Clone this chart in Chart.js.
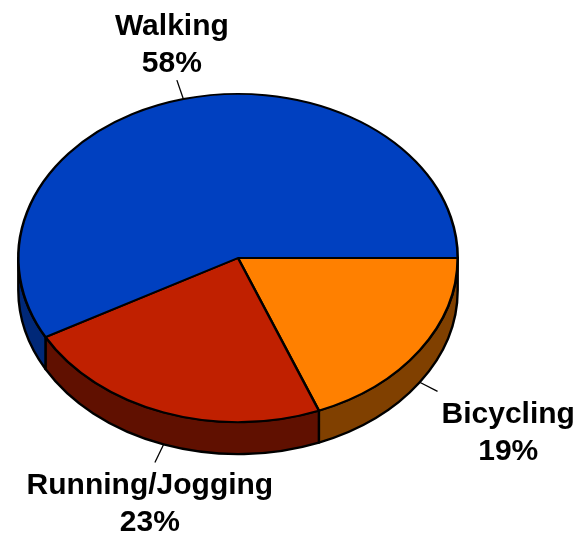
<!DOCTYPE html>
<html><head><meta charset="utf-8">
<script src="https://cdn.jsdelivr.net/npm/chart.js@4"></script>
<style>html,body{margin:0;padding:0;background:#fff;overflow:hidden}canvas{display:block}</style>
</head><body>
<canvas id="c" width="588" height="541"></canvas>
<script>
const categories = ['Bicycling', 'Running/Jogging', 'Walking'];
const shares = [19, 23, 58];
const percentLabels = ['19%', '23%', '58%'];
const topColors = ['#FF8000', '#C02000', '#0040C0'];
const sideColors = ['#804000', '#601000', '#002878'];

const TILT = 0.747;
const DEPTH = 32;

function props(a) {
  return a.getProps(['x', 'y', 'outerRadius', 'startAngle', 'endAngle'], true);
}

const pie3d = {
  id: 'pie3d',
  beforeDatasetsDraw(chart) {
    const ctx = chart.ctx;
    const arcs = chart.getDatasetMeta(0).data;
    arcs.forEach((a, i) => {
      const { x, y, outerRadius: r, startAngle, endAngle } = props(a);
      const ry = r * TILT;
      const TWO = 2 * Math.PI;
      const s = ((startAngle % TWO) + TWO) % TWO;
      const e = s + (endAngle - startAngle);
      [[0, Math.PI], [TWO, TWO + Math.PI]].forEach(([lo, hi]) => {
        const a1 = Math.max(s, lo), a2 = Math.min(e, hi);
        if (a2 <= a1) return;
        ctx.beginPath();
        ctx.ellipse(x, y, r, ry, 0, a1, a2, false);
        ctx.lineTo(x + r * Math.cos(a2), y + ry * Math.sin(a2) + DEPTH);
        ctx.ellipse(x, y + DEPTH, r, ry, 0, a2, a1, true);
        ctx.closePath();
        ctx.fillStyle = sideColors[i];
        ctx.fill();
        ctx.lineWidth = 2.4;
        ctx.lineJoin = 'round';
        ctx.strokeStyle = '#000';
        ctx.stroke();
      });
    });
    const p = props(arcs[0]);
    ctx.save();
    ctx.translate(p.x, p.y);
    ctx.scale(1, TILT);
    ctx.translate(-p.x, -p.y);
  },
  afterDatasetsDraw(chart) {
    const ctx = chart.ctx;
    ctx.restore();
    const arcs = chart.getDatasetMeta(0).data;
    ctx.save();
    ctx.font = 'bold 30px "Liberation Sans", Arial, sans-serif';
    ctx.fillStyle = '#000';
    ctx.strokeStyle = '#000';
    ctx.textBaseline = 'alphabetic';
    arcs.forEach((a, i) => {
      const { x, y, outerRadius: r, startAngle, endAngle } = props(a);
      const ry = r * TILT;
      const mid = (startAngle + endAngle) / 2;
      const c = Math.cos(mid), sn = Math.sin(mid);
      const px = x + r * c, py = y + ry * sn + (sn > 0 ? DEPTH : 0);
      let dx = r * c, dy = ry * sn;
      const len = Math.hypot(dx, dy);
      dx /= len; dy /= len;
      const L = 20;
      const qx = px + dx * L, qy = py + dy * L;
      ctx.beginPath();
      ctx.moveTo(px, py);
      ctx.lineTo(qx, qy);
      ctx.lineWidth = 1.3;
      ctx.stroke();
      const w = ctx.measureText(categories[i]).width;
      const cx = c > 0.3 ? qx + 4 + w / 2 : qx - 5;
      const step = 37;
      let b1;
      if (sn < 0) b1 = qy - 8 - step; else b1 = qy + 32;
      ctx.textAlign = 'center';
      ctx.fillText(categories[i], cx, b1);
      ctx.fillText(percentLabels[i], cx, b1 + step);
    });
    ctx.restore();
  }
};

new Chart(document.getElementById('c'), {
  type: 'pie',
  data: {
    labels: categories,
    datasets: [{
      data: shares,
      backgroundColor: topColors,
      borderColor: '#000',
      borderWidth: 2.6,
      hoverOffset: 0,
      clip: false
    }]
  },
  options: {
    responsive: false,
    animation: false,
    events: [],
    rotation: 90,
    layout: { padding: { left: 17, right: 129, top: 37, bottom: 62 } },
    plugins: { legend: { display: false }, tooltip: { enabled: false } }
  },
  plugins: [pie3d]
});
</script>
</body></html>
